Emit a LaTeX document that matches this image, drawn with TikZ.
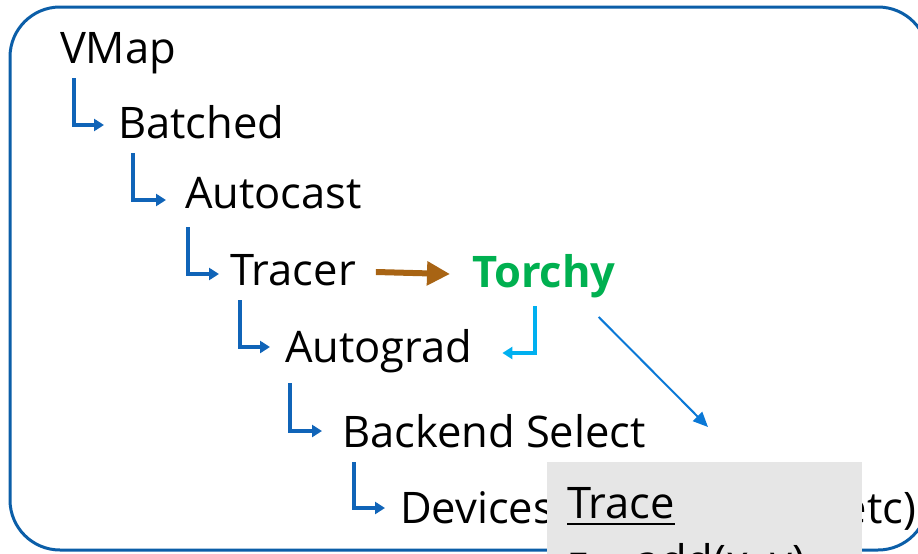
\documentclass[tikz,border=0pt]{standalone}
\usepackage{fontspec}
\setmainfont{Open Sans}
\usetikzlibrary{arrows.meta,calc}
\definecolor{frameblue}{HTML}{0B5EA8}
\definecolor{elbowblue}{HTML}{1064B8}
\definecolor{tracebrown}{HTML}{A86414}
\definecolor{torchygreen}{HTML}{00B050}
\definecolor{returncyan}{HTML}{00B0F0}
\definecolor{pointblue}{HTML}{0A78D6}
\definecolor{panelgray}{HTML}{E6E6E6}
\begin{document}
\begin{tikzpicture}[x=1pt,y=-1pt,
  every node/.style={inner sep=0pt,outer sep=0pt},
  layer/.style={anchor=base west,font=\fontsize{43.5}{50}\selectfont},
  elbow/.style={draw=elbowblue,line width=4.8pt,
    -{Triangle[length=10pt,width=12pt]}},
  handoff/.style={draw=tracebrown,line width=6pt,
    -{Triangle[length=23pt,width=23pt]}},
  back/.style={draw=returncyan,line width=4.8pt,
    -{Triangle[length=10pt,width=12pt]}},
  point/.style={draw=pointblue,line width=2pt,
    -{Triangle[length=15pt,width=13pt]}}]
\useasboundingbox (0,0) rectangle (918,554);
\clip (0,0) rectangle (918,554);

% outer frame, running past the right edge
\draw[frameblue,line width=3pt,rounded corners=50pt] (10,7) rectangle (928,550);

% dispatch stack
\node[layer] (vmap)     at (60,63)  {VMap};
\node[layer] (batched)  at (118,138) {Batched};
\node[layer] (autocast) at (185,208) {Autocast};
\node[layer] (tracer)   at (230,285) {Tracer};
\node[layer] (autograd) at (285,362) {Autograd};
\node[layer] (backend)  at (342,447) {Backend Select};
\node[layer] (devices)  at (400,523) {Devices};
\node[layer,anchor=base east] (etc) at (916,523) {etc)};
\node[layer,font=\fontsize{43.5}{50}\selectfont\bfseries,text=torchygreen]
  (torchy) at (472,287) {Torchy};

% each layer hands off to the next one
\draw[elbow] ($(vmap.base west)+(14,15)$)     |- ($(batched.base west)+(-14,-13)$);
\draw[elbow] ($(batched.base west)+(15,15)$)  |- ($(autocast.base west)+(-19,-8)$);
\draw[elbow] ($(autocast.base west)+(3,19)$)  |- ($(tracer.base west)+(-11,-11)$);
\draw[elbow] ($(tracer.base west)+(10,15)$)   |- ($(autograd.base west)+(-15,-15)$);
\draw[elbow] ($(autograd.base west)+(5,21)$)  |- ($(backend.base west)+(-20,-16)$);
\draw[elbow] ($(backend.base west)+(12,15)$)  |- ($(devices.base west)+(-15,-15)$);

% tracer detour through Torchy
\draw[handoff] ($(tracer.base east)+(20,-13)$) -- ($(torchy.base west)+(-22,-13)$);
\draw[back] ($(torchy.base west)+(63,19)$) |- ($(autograd.base east)+(30,-9)$);
\coordinate (tracetarget) at (708,427);
\draw[point] ($(torchy.base east)+(-17,30)$) -- (tracetarget);

% trace panel
\fill[panelgray] (547,462) rectangle (862,560);
\node[layer] (trace) at (567,518) {Trace};
\draw[line width=2pt] ($(trace.base west)+(0,6)$) -- ($(trace.base east)+(0,6)$);
\node[layer] (traceline) at (568,576) {z = add(x, y)};
\end{tikzpicture}
\end{document}
